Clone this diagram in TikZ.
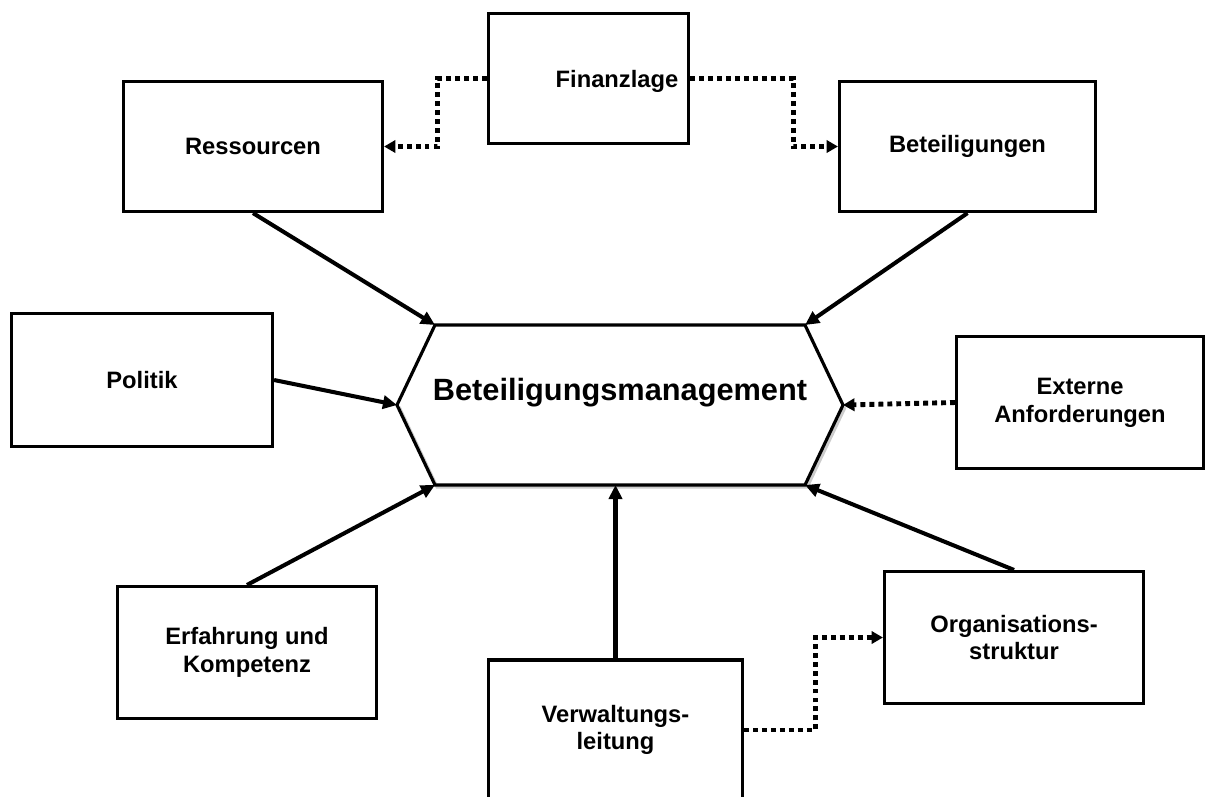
\documentclass[tikz,border=0pt]{standalone}
\usepackage{fontspec}
\setmainfont{Liberation Sans}
\usetikzlibrary{arrows.meta, positioning}
\tikzset{
    base/.style={draw=black, line width=1.8pt, font=\bfseries\fontsize{13.5}{15.8}\selectfont, align=center},
    block/.style={base, rectangle, inner sep=4pt},
    line/.style={draw=black, line width=2.3pt, -{Triangle[length=8pt, width=7.5pt]}},
    dotted-line/.style={draw=black, line width=2.8pt, dash pattern=on 2.8pt off 2.3pt, -{Triangle[length=6.5pt, width=7pt]}}
}

\begin{document}
\begin{tikzpicture}[x=0.02cm, y=-0.02cm]
    \useasboundingbox (0,0) rectangle (1216,796);

    % outer boxes
    \node [block, minimum width=4cm, minimum height=2.6cm] (Fin) at (588.5,78.5) {};
    \node [font=\bfseries\fontsize{13.5}{15.8}\selectfont] (FinText) at (617,81) {Finanzlage};
    \node [block, minimum width=5.18cm, minimum height=2.6cm] (Res) at (253,146.5) {Ressourcen};
    \node [block, minimum width=5.12cm, minimum height=2.6cm] (Bet) at (967.5,146.5) {Beteiligungen};
    \node [block, minimum width=5.22cm, minimum height=2.66cm] (Pol) at (142,380) {Politik};
    \node [block, minimum width=4.94cm, minimum height=2.64cm] (Ext) at (1080,402.5) {Externe\\Anforderungen};
    \node [block, minimum width=5.18cm, minimum height=2.64cm] (Erf) at (247,652.5) {Erfahrung und\\Kompetenz};
    \node [block, minimum width=5.08cm, minimum height=2.8cm] (Ver) at (615.5,730) {Verwaltungs-\\leitung};
    \node [block, minimum width=5.18cm, minimum height=2.64cm] (Org) at (1014,637.5) {Organisations-\\struktur};

    % centre hexagon
    \coordinate (HexL) at (397,405);
    \coordinate (HexTL) at (435,325);
    \coordinate (HexTR) at (805,325);
    \coordinate (HexR) at (843,405);
    \coordinate (HexBR) at (805,485);
    \coordinate (HexBL) at (435,485);
    \draw [gray!40, line width=1.8pt] ([xshift=1.2pt, yshift=-1.2pt]HexL) -- ([xshift=1.2pt, yshift=-1.2pt]HexBL) -- ([xshift=1.2pt, yshift=-1.2pt]HexBR) -- ([xshift=1.2pt, yshift=-1.2pt]HexR);
    \draw [line width=1.8pt, line join=miter] (HexL) -- (HexTL) -- (HexTR) -- (HexR) -- (HexBR) -- (HexBL) -- cycle;
    \node [font=\bfseries\fontsize{17.5}{20}\selectfont] (Mgmt) at (620,393) {Beteiligungsmanagement};

    % arrows
    \draw [line] (Res.south) -- (HexTL);
    \draw [line] (Bet.south) -- (HexTR);
    \draw [line] (Pol.east) -- (HexL);
    \draw [line] (Erf.north) -- (HexBL);
    \draw [line] (Ver.north) -- (Ver.north |- HexBL);
    \draw [line] (Org.north) -- (HexBR);
    \draw [dotted-line] (Ext.west) -- (HexR);
    \draw [dotted-line] (Fin.west) -- ++(-49,0) |- (Res.east);
    \draw [dotted-line] (Fin.east) -- ++(103,0) |- (Bet.west);
    \draw [dotted-line] (Ver.east) -- ++(71,0) |- (Org.west);
\end{tikzpicture}
\end{document}
